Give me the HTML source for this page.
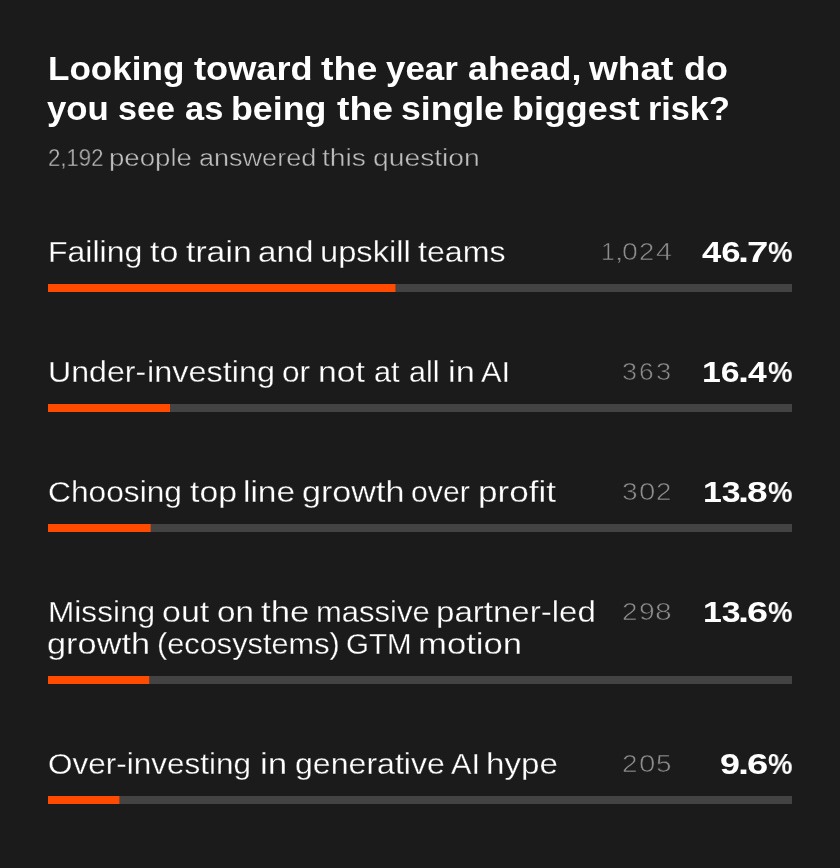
<!DOCTYPE html>
<html><head><meta charset="utf-8"><style>
html,body{margin:0;padding:0;background:#1b1b1b;}
body{width:840px;height:868px;background:#1b1b1b;position:relative;overflow:hidden;font-family:"Liberation Sans",sans-serif;}
.t{position:absolute;white-space:nowrap;will-change:transform;transform-origin:0 0;}
.trk{position:absolute;left:48px;width:744px;height:8px;background:#434343;}
.fill{position:absolute;left:48px;height:8px;background:#ff4b00;}
</style></head><body>
<div class="t" style="left:48.09px;top:53.48px;font-size:32.5px;line-height:32.5px;font-weight:700;color:#fff;transform:scaleX(1.0791);">Looking</div>
<div class="t" style="left:193.62px;top:53.48px;font-size:32.5px;line-height:32.5px;font-weight:700;color:#fff;transform:scaleX(1.1138);">toward</div>
<div class="t" style="left:321.01px;top:53.48px;font-size:32.5px;line-height:32.5px;font-weight:700;color:#fff;transform:scaleX(1.1537);">the</div>
<div class="t" style="left:386.48px;top:53.48px;font-size:32.5px;line-height:32.5px;font-weight:700;color:#fff;transform:scaleX(1.0744);">year</div>
<div class="t" style="left:467.50px;top:53.48px;font-size:32.5px;line-height:32.5px;font-weight:700;color:#fff;transform:scaleX(1.1013);">ahead,</div>
<div class="t" style="left:589.30px;top:53.48px;font-size:32.5px;line-height:32.5px;font-weight:700;color:#fff;transform:scaleX(1.1394);">what</div>
<div class="t" style="left:683.53px;top:53.48px;font-size:32.5px;line-height:32.5px;font-weight:700;color:#fff;transform:scaleX(1.1032);">do</div>
<div class="t" style="left:47.48px;top:93.48px;font-size:32.5px;line-height:32.5px;font-weight:700;color:#fff;transform:scaleX(1.0700);">you</div>
<div class="t" style="left:117.85px;top:93.48px;font-size:32.5px;line-height:32.5px;font-weight:700;color:#fff;transform:scaleX(1.0483);">see</div>
<div class="t" style="left:184.65px;top:93.48px;font-size:32.5px;line-height:32.5px;font-weight:700;color:#fff;transform:scaleX(1.0581);">as</div>
<div class="t" style="left:230.55px;top:93.48px;font-size:32.5px;line-height:32.5px;font-weight:700;color:#fff;transform:scaleX(1.1018);">being</div>
<div class="t" style="left:336.71px;top:93.48px;font-size:32.5px;line-height:32.5px;font-weight:700;color:#fff;transform:scaleX(1.1474);">the</div>
<div class="t" style="left:401.38px;top:93.48px;font-size:32.5px;line-height:32.5px;font-weight:700;color:#fff;transform:scaleX(1.0955);">single</div>
<div class="t" style="left:511.94px;top:93.48px;font-size:32.5px;line-height:32.5px;font-weight:700;color:#fff;transform:scaleX(1.1044);">biggest</div>
<div class="t" style="left:647.75px;top:93.48px;font-size:32.5px;line-height:32.5px;font-weight:700;color:#fff;transform:scaleX(1.0530);">risk?</div>
<div class="t" style="left:47.62px;top:146.09px;font-size:24.7px;line-height:24.7px;font-weight:400;color:#bdbdbd;transform:scaleX(0.8981);-webkit-text-stroke:0.4px #1b1b1b;">2,192</div>
<div class="t" style="left:109.46px;top:146.09px;font-size:24.7px;line-height:24.7px;font-weight:400;color:#bdbdbd;transform:scaleX(1.1176);-webkit-text-stroke:0.4px #1b1b1b;">people</div>
<div class="t" style="left:198.79px;top:146.09px;font-size:24.7px;line-height:24.7px;font-weight:400;color:#bdbdbd;transform:scaleX(1.0948);-webkit-text-stroke:0.4px #1b1b1b;">answered</div>
<div class="t" style="left:322.13px;top:146.09px;font-size:24.7px;line-height:24.7px;font-weight:400;color:#bdbdbd;transform:scaleX(1.1450);-webkit-text-stroke:0.4px #1b1b1b;">this</div>
<div class="t" style="left:372.51px;top:146.09px;font-size:24.7px;line-height:24.7px;font-weight:400;color:#bdbdbd;transform:scaleX(1.1441);-webkit-text-stroke:0.4px #1b1b1b;">question</div>
<div class="t" style="left:48.43px;top:237.02px;font-size:29.5px;line-height:29.5px;font-weight:400;color:#fff;transform:scaleX(1.0847);-webkit-text-stroke:0.3px #1b1b1b;">Failing</div>
<div class="t" style="left:149.54px;top:237.02px;font-size:29.5px;line-height:29.5px;font-weight:400;color:#fff;transform:scaleX(1.1553);-webkit-text-stroke:0.3px #1b1b1b;">to</div>
<div class="t" style="left:185.85px;top:237.02px;font-size:29.5px;line-height:29.5px;font-weight:400;color:#fff;transform:scaleX(1.1442);-webkit-text-stroke:0.3px #1b1b1b;">train</div>
<div class="t" style="left:257.88px;top:237.02px;font-size:29.5px;line-height:29.5px;font-weight:400;color:#fff;transform:scaleX(1.1239);-webkit-text-stroke:0.3px #1b1b1b;">and</div>
<div class="t" style="left:319.71px;top:237.02px;font-size:29.5px;line-height:29.5px;font-weight:400;color:#fff;transform:scaleX(1.1083);-webkit-text-stroke:0.3px #1b1b1b;">upskill</div>
<div class="t" style="left:418.27px;top:237.02px;font-size:29.5px;line-height:29.5px;font-weight:400;color:#fff;transform:scaleX(1.0888);-webkit-text-stroke:0.3px #1b1b1b;">teams</div>
<div class="t" style="left:601.23px;top:240.19px;font-size:24.7px;line-height:24.7px;font-weight:400;color:#8c8c8c;transform:scaleX(0.9665);-webkit-text-stroke:0.6px #1b1b1b;">1</div>
<div class="t" style="left:613.67px;top:240.19px;font-size:24.7px;line-height:24.7px;font-weight:400;color:#8c8c8c;transform:scaleX(1.4783);-webkit-text-stroke:0.6px #1b1b1b;">,</div>
<div class="t" style="left:621.76px;top:240.19px;font-size:24.7px;line-height:24.7px;font-weight:400;color:#8c8c8c;transform:scaleX(1.1541);-webkit-text-stroke:0.6px #1b1b1b;">0</div>
<div class="t" style="left:639.07px;top:240.19px;font-size:24.7px;line-height:24.7px;font-weight:400;color:#8c8c8c;transform:scaleX(1.1106);-webkit-text-stroke:0.6px #1b1b1b;">2</div>
<div class="t" style="left:655.82px;top:240.19px;font-size:24.7px;line-height:24.7px;font-weight:400;color:#8c8c8c;transform:scaleX(1.1598);-webkit-text-stroke:0.6px #1b1b1b;">4</div>
<div class="t" style="left:701.55px;top:238.05px;font-size:29px;line-height:29px;font-weight:700;color:#fff;transform:scaleX(1.1954);">46</div>
<div class="t" style="left:738.26px;top:238.05px;font-size:29px;line-height:29px;font-weight:700;color:#fff;transform:scaleX(1.3691);">.</div>
<div class="t" style="left:747.00px;top:238.05px;font-size:29px;line-height:29px;font-weight:700;color:#fff;transform:scaleX(1.3240);">7</div>
<div class="t" style="left:767.72px;top:238.05px;font-size:29px;line-height:29px;font-weight:700;color:#fff;transform:scaleX(0.9472);">%</div>
<div class="t" style="left:48.26px;top:357.02px;font-size:29.5px;line-height:29.5px;font-weight:400;color:#fff;transform:scaleX(1.0895);-webkit-text-stroke:0.3px #1b1b1b;">Under-</div>
<div class="t" style="left:147.16px;top:357.02px;font-size:29.5px;line-height:29.5px;font-weight:400;color:#fff;transform:scaleX(1.0988);-webkit-text-stroke:0.3px #1b1b1b;">investing</div>
<div class="t" style="left:282.25px;top:357.02px;font-size:29.5px;line-height:29.5px;font-weight:400;color:#fff;transform:scaleX(1.0732);-webkit-text-stroke:0.3px #1b1b1b;">or</div>
<div class="t" style="left:318.45px;top:357.02px;font-size:29.5px;line-height:29.5px;font-weight:400;color:#fff;transform:scaleX(1.1416);-webkit-text-stroke:0.3px #1b1b1b;">not</div>
<div class="t" style="left:373.68px;top:357.02px;font-size:29.5px;line-height:29.5px;font-weight:400;color:#fff;transform:scaleX(1.0437);-webkit-text-stroke:0.3px #1b1b1b;">at</div>
<div class="t" style="left:409.40px;top:357.02px;font-size:29.5px;line-height:29.5px;font-weight:400;color:#fff;transform:scaleX(1.0317);-webkit-text-stroke:0.3px #1b1b1b;">all</div>
<div class="t" style="left:448.43px;top:357.02px;font-size:29.5px;line-height:29.5px;font-weight:400;color:#fff;transform:scaleX(1.1658);-webkit-text-stroke:0.3px #1b1b1b;">in</div>
<div class="t" style="left:481.16px;top:357.02px;font-size:29.5px;line-height:29.5px;font-weight:400;color:#fff;transform:scaleX(1.0462);-webkit-text-stroke:0.3px #1b1b1b;">AI</div>
<div class="t" style="left:621.79px;top:360.19px;font-size:24.7px;line-height:24.7px;font-weight:400;color:#8c8c8c;transform:scaleX(1.0954);-webkit-text-stroke:0.6px #1b1b1b;">3</div>
<div class="t" style="left:639.06px;top:360.19px;font-size:24.7px;line-height:24.7px;font-weight:400;color:#8c8c8c;transform:scaleX(1.0636);-webkit-text-stroke:0.6px #1b1b1b;">6</div>
<div class="t" style="left:655.88px;top:360.19px;font-size:24.7px;line-height:24.7px;font-weight:400;color:#8c8c8c;transform:scaleX(1.1041);-webkit-text-stroke:0.6px #1b1b1b;">3</div>
<div class="t" style="left:702.43px;top:358.05px;font-size:29px;line-height:29px;font-weight:700;color:#fff;transform:scaleX(1.1671);">16</div>
<div class="t" style="left:738.26px;top:358.05px;font-size:29px;line-height:29px;font-weight:700;color:#fff;transform:scaleX(1.3691);">.</div>
<div class="t" style="left:747.66px;top:358.05px;font-size:29px;line-height:29px;font-weight:700;color:#fff;transform:scaleX(1.1605);">4</div>
<div class="t" style="left:767.72px;top:358.05px;font-size:29px;line-height:29px;font-weight:700;color:#fff;transform:scaleX(0.9472);">%</div>
<div class="t" style="left:47.90px;top:477.02px;font-size:29.5px;line-height:29.5px;font-weight:400;color:#fff;transform:scaleX(1.0745);-webkit-text-stroke:0.3px #1b1b1b;">Choosing</div>
<div class="t" style="left:189.55px;top:477.02px;font-size:29.5px;line-height:29.5px;font-weight:400;color:#fff;transform:scaleX(1.1459);-webkit-text-stroke:0.3px #1b1b1b;">top</div>
<div class="t" style="left:243.43px;top:477.02px;font-size:29.5px;line-height:29.5px;font-weight:400;color:#fff;transform:scaleX(1.1338);-webkit-text-stroke:0.3px #1b1b1b;">line</div>
<div class="t" style="left:301.79px;top:477.02px;font-size:29.5px;line-height:29.5px;font-weight:400;color:#fff;transform:scaleX(1.1572);-webkit-text-stroke:0.3px #1b1b1b;">growth</div>
<div class="t" style="left:411.22px;top:477.02px;font-size:29.5px;line-height:29.5px;font-weight:400;color:#fff;transform:scaleX(1.0234);-webkit-text-stroke:0.3px #1b1b1b;">over</div>
<div class="t" style="left:477.74px;top:477.02px;font-size:29.5px;line-height:29.5px;font-weight:400;color:#fff;transform:scaleX(1.1909);-webkit-text-stroke:0.3px #1b1b1b;">profit</div>
<div class="t" style="left:621.64px;top:480.19px;font-size:24.7px;line-height:24.7px;font-weight:400;color:#8c8c8c;transform:scaleX(1.1392);-webkit-text-stroke:0.6px #1b1b1b;">3</div>
<div class="t" style="left:638.83px;top:480.19px;font-size:24.7px;line-height:24.7px;font-weight:400;color:#8c8c8c;transform:scaleX(1.1880);-webkit-text-stroke:0.6px #1b1b1b;">0</div>
<div class="t" style="left:655.66px;top:480.19px;font-size:24.7px;line-height:24.7px;font-weight:400;color:#8c8c8c;transform:scaleX(1.1194);-webkit-text-stroke:0.6px #1b1b1b;">2</div>
<div class="t" style="left:702.53px;top:478.05px;font-size:29px;line-height:29px;font-weight:700;color:#fff;transform:scaleX(1.1654);">13</div>
<div class="t" style="left:738.26px;top:478.05px;font-size:29px;line-height:29px;font-weight:700;color:#fff;transform:scaleX(1.3691);">.</div>
<div class="t" style="left:746.88px;top:478.05px;font-size:29px;line-height:29px;font-weight:700;color:#fff;transform:scaleX(1.2746);">8</div>
<div class="t" style="left:767.72px;top:478.05px;font-size:29px;line-height:29px;font-weight:700;color:#fff;transform:scaleX(0.9472);">%</div>
<div class="t" style="left:48.26px;top:597.02px;font-size:29.5px;line-height:29.5px;font-weight:400;color:#fff;transform:scaleX(1.0711);-webkit-text-stroke:0.3px #1b1b1b;">Missing</div>
<div class="t" style="left:162.16px;top:597.02px;font-size:29.5px;line-height:29.5px;font-weight:400;color:#fff;transform:scaleX(1.1514);-webkit-text-stroke:0.3px #1b1b1b;">out</div>
<div class="t" style="left:217.39px;top:597.02px;font-size:29.5px;line-height:29.5px;font-weight:400;color:#fff;transform:scaleX(1.1267);-webkit-text-stroke:0.3px #1b1b1b;">on</div>
<div class="t" style="left:261.43px;top:597.02px;font-size:29.5px;line-height:29.5px;font-weight:400;color:#fff;transform:scaleX(1.1836);-webkit-text-stroke:0.3px #1b1b1b;">the</div>
<div class="t" style="left:315.83px;top:597.02px;font-size:29.5px;line-height:29.5px;font-weight:400;color:#fff;transform:scaleX(1.0510);-webkit-text-stroke:0.3px #1b1b1b;">massive</div>
<div class="t" style="left:435.97px;top:597.02px;font-size:29.5px;line-height:29.5px;font-weight:400;color:#fff;transform:scaleX(1.1207);-webkit-text-stroke:0.3px #1b1b1b;">partner-led</div>
<div class="t" style="left:47.48px;top:629.02px;font-size:29.5px;line-height:29.5px;font-weight:400;color:#fff;transform:scaleX(1.1654);-webkit-text-stroke:0.3px #1b1b1b;">growth</div>
<div class="t" style="left:157.11px;top:629.02px;font-size:29.5px;line-height:29.5px;font-weight:400;color:#fff;transform:scaleX(1.0425);-webkit-text-stroke:0.3px #1b1b1b;">(ecosystems)</div>
<div class="t" style="left:346.42px;top:629.02px;font-size:29.5px;line-height:29.5px;font-weight:400;color:#fff;transform:scaleX(0.9978);-webkit-text-stroke:0.3px #1b1b1b;">GTM</div>
<div class="t" style="left:417.59px;top:629.02px;font-size:29.5px;line-height:29.5px;font-weight:400;color:#fff;transform:scaleX(1.1757);-webkit-text-stroke:0.3px #1b1b1b;">motion</div>
<div class="t" style="left:621.85px;top:600.19px;font-size:24.7px;line-height:24.7px;font-weight:400;color:#8c8c8c;transform:scaleX(1.1282);-webkit-text-stroke:0.6px #1b1b1b;">2</div>
<div class="t" style="left:638.67px;top:600.19px;font-size:24.7px;line-height:24.7px;font-weight:400;color:#8c8c8c;transform:scaleX(1.1392);-webkit-text-stroke:0.6px #1b1b1b;">9</div>
<div class="t" style="left:655.34px;top:600.19px;font-size:24.7px;line-height:24.7px;font-weight:400;color:#8c8c8c;transform:scaleX(1.2143);-webkit-text-stroke:0.6px #1b1b1b;">8</div>
<div class="t" style="left:702.53px;top:598.05px;font-size:29px;line-height:29px;font-weight:700;color:#fff;transform:scaleX(1.1654);">13</div>
<div class="t" style="left:738.26px;top:598.05px;font-size:29px;line-height:29px;font-weight:700;color:#fff;transform:scaleX(1.3691);">.</div>
<div class="t" style="left:746.69px;top:598.05px;font-size:29px;line-height:29px;font-weight:700;color:#fff;transform:scaleX(1.3033);">6</div>
<div class="t" style="left:767.72px;top:598.05px;font-size:29px;line-height:29px;font-weight:700;color:#fff;transform:scaleX(0.9472);">%</div>
<div class="t" style="left:48.02px;top:749.02px;font-size:29.5px;line-height:29.5px;font-weight:400;color:#fff;transform:scaleX(1.0675);-webkit-text-stroke:0.3px #1b1b1b;">Over-investing</div>
<div class="t" style="left:260.29px;top:749.02px;font-size:29.5px;line-height:29.5px;font-weight:400;color:#fff;transform:scaleX(1.1868);-webkit-text-stroke:0.3px #1b1b1b;">in</div>
<div class="t" style="left:294.67px;top:749.02px;font-size:29.5px;line-height:29.5px;font-weight:400;color:#fff;transform:scaleX(1.0878);-webkit-text-stroke:0.3px #1b1b1b;">generative</div>
<div class="t" style="left:451.46px;top:749.02px;font-size:29.5px;line-height:29.5px;font-weight:400;color:#fff;transform:scaleX(1.0422);-webkit-text-stroke:0.3px #1b1b1b;">AI</div>
<div class="t" style="left:485.71px;top:749.02px;font-size:29.5px;line-height:29.5px;font-weight:400;color:#fff;transform:scaleX(1.1244);-webkit-text-stroke:0.3px #1b1b1b;">hype</div>
<div class="t" style="left:621.85px;top:752.19px;font-size:24.7px;line-height:24.7px;font-weight:400;color:#8c8c8c;transform:scaleX(1.1282);-webkit-text-stroke:0.6px #1b1b1b;">2</div>
<div class="t" style="left:638.83px;top:752.19px;font-size:24.7px;line-height:24.7px;font-weight:400;color:#8c8c8c;transform:scaleX(1.1880);-webkit-text-stroke:0.6px #1b1b1b;">0</div>
<div class="t" style="left:655.72px;top:752.19px;font-size:24.7px;line-height:24.7px;font-weight:400;color:#8c8c8c;transform:scaleX(1.1260);-webkit-text-stroke:0.6px #1b1b1b;">5</div>
<div class="t" style="left:720.43px;top:750.05px;font-size:29px;line-height:29px;font-weight:700;color:#fff;transform:scaleX(1.2350);">9</div>
<div class="t" style="left:738.26px;top:750.05px;font-size:29px;line-height:29px;font-weight:700;color:#fff;transform:scaleX(1.3691);">.</div>
<div class="t" style="left:746.68px;top:750.05px;font-size:29px;line-height:29px;font-weight:700;color:#fff;transform:scaleX(1.3176);">6</div>
<div class="t" style="left:767.72px;top:750.05px;font-size:29px;line-height:29px;font-weight:700;color:#fff;transform:scaleX(0.9472);">%</div>
<div class="trk" style="top:284px"></div><div class="fill" style="top:284px;width:347px"></div><div class="fill" style="top:284px;left:395px;width:1px;opacity:0.45"></div>
<div class="trk" style="top:404px"></div><div class="fill" style="top:404px;width:122px"></div><div class="fill" style="top:404px;left:170px;width:1px;opacity:0.02"></div>
<div class="trk" style="top:524px"></div><div class="fill" style="top:524px;width:102px"></div><div class="fill" style="top:524px;left:150px;width:1px;opacity:0.67"></div>
<div class="trk" style="top:676px"></div><div class="fill" style="top:676px;width:101px"></div><div class="fill" style="top:676px;left:149px;width:1px;opacity:0.18"></div>
<div class="trk" style="top:796px"></div><div class="fill" style="top:796px;width:71px"></div><div class="fill" style="top:796px;left:119px;width:1px;opacity:0.42"></div>
</body></html>
